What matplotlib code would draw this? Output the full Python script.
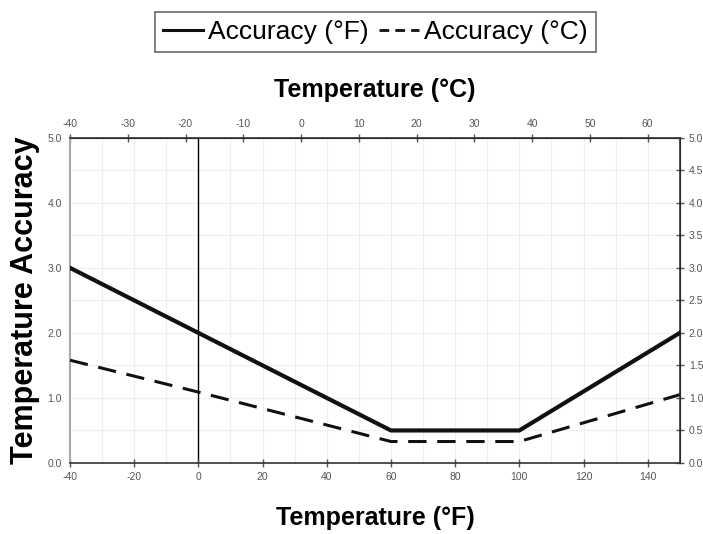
import matplotlib
matplotlib.use("Agg")
import matplotlib.pyplot as plt
from matplotlib.lines import Line2D

plt.rcParams['font.family'] = ['Liberation Sans', 'DejaVu Sans']
plt.rcParams['axes.unicode_minus'] = False

temp_f = [-40, 0, 60, 100, 150]
acc_f = [3.0, 2.0, 0.5, 0.5, 2.0]
acc_c = [1.58, 1.09, 0.33, 0.33, 1.05]

top_ticks = [-40, -30, -20, -10, 0, 10, 20, 30, 40, 50, 60]
left_ticks = [0.0, 1.0, 2.0, 3.0, 4.0, 5.0]
right_ticks = [0.0, 0.5, 1.0, 1.5, 2.0, 2.5, 3.0, 3.5, 4.0, 4.5, 5.0]
bottom_ticks = [-40, -20, 0, 20, 40, 60, 80, 100, 120, 140]

fig = plt.figure(figsize=(7.03, 5.34), dpi=100)
ax = fig.add_axes([0.0996, 0.133, 0.8674, 0.609])

# faint grid
for x in range(-30, 150, 10):
    ax.axvline(x, color='#efefef', lw=0.8, zorder=0)
for y in right_ticks[1:-1]:
    ax.axhline(y, color='#efefef', lw=0.8, zorder=0)
ax.axvline(0, color='black', lw=1.0, zorder=1)

ax.plot(temp_f, acc_f, color='#111111', lw=3.0, zorder=3)
ax.plot(temp_f, acc_c, color='#111111', lw=2.2, dashes=(6, 3.5), zorder=3)

ax.set_xlim(-40, 150)
ax.set_ylim(0, 5)
ax.set_xticks(bottom_ticks)
ax.set_yticks(left_ticks)
ax.set_yticklabels(['%.1f' % v for v in left_ticks])
ax.tick_params(axis='both', labelsize=7.5, colors='#555555', direction='inout', length=6, width=1)
ax.tick_params(axis='y', length=0, pad=6)
for s in ['top', 'right', 'bottom']:
    ax.spines[s].set_color('#333333')
    ax.spines[s].set_linewidth(1.2)
ax.spines['left'].set_color('#aaaaaa')
ax.spines['left'].set_linewidth(1.5)

top = ax.secondary_xaxis('top', functions=(lambda f: (f - 32) / 1.8, lambda c: c * 1.8 + 32))
top.set_xticks(top_ticks)
top.tick_params(labelsize=7.5, colors='#555555', direction='inout', length=6, width=1)
top.set_xlabel('Temperature (°C)', fontsize=18, fontweight='bold', labelpad=16)

right = ax.secondary_yaxis('right')
right.set_yticks(right_ticks)
right.set_yticklabels(['%.1f' % v for v in right_ticks])
right.tick_params(labelsize=7.5, colors='#555555', direction='inout', length=6, width=1)

ax.set_xlabel('Temperature (°F)', fontsize=18, fontweight='bold', labelpad=17)
ax.set_ylabel('Temperature Accuracy', fontsize=22, fontweight='bold', labelpad=5)

handles = [Line2D([], [], color='#111111', lw=2.2),
           Line2D([], [], color='#111111', lw=2.0, dashes=(3.5, 2.2))]
leg = fig.legend(handles, ['Accuracy (°F)', 'Accuracy (°C)'], loc='upper center',
                 bbox_to_anchor=(0.534, 0.977), ncol=2, fontsize=19,
                 frameon=True, fancybox=False, edgecolor='#444444', handlelength=1.5,
                 handletextpad=0.2, columnspacing=0.4, borderpad=0.3, borderaxespad=0)
leg.get_frame().set_linewidth(1.2)

fig.savefig('out.png', dpi=100)
